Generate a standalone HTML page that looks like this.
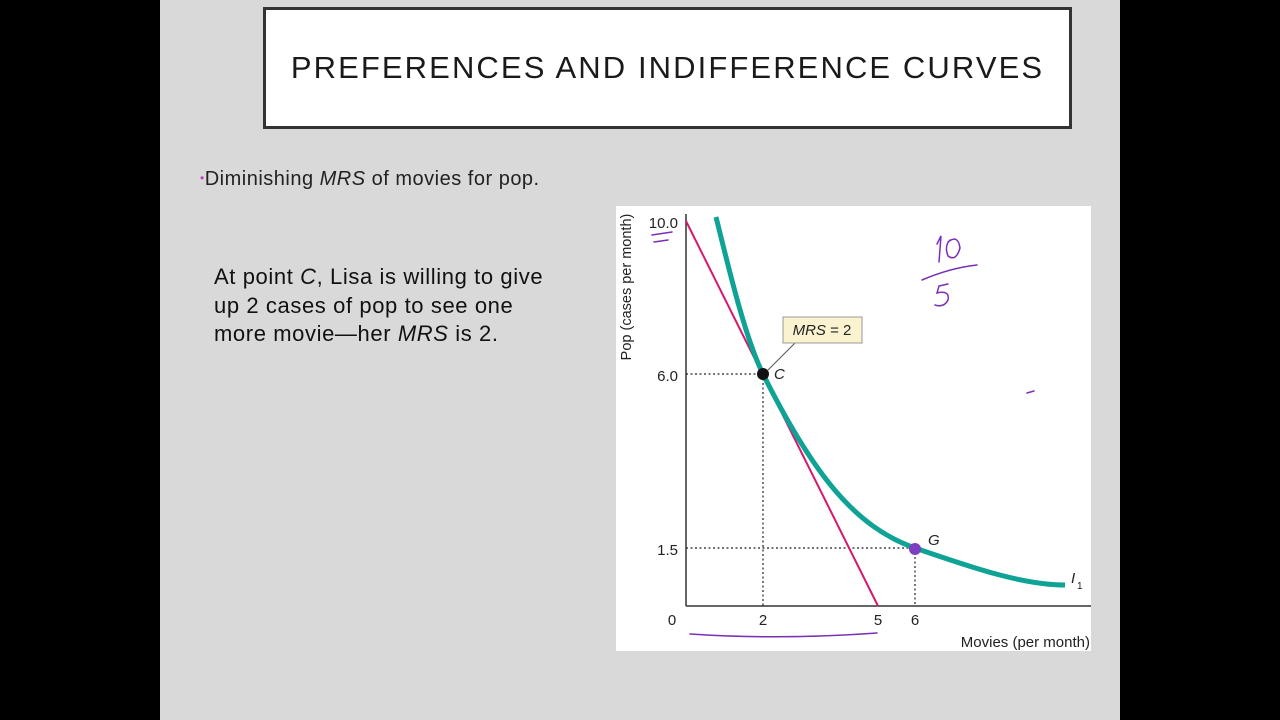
<!DOCTYPE html>
<html><head><meta charset="utf-8"><style>
body{margin:0;width:1280px;height:720px;background:#000;position:relative;overflow:hidden;font-family:"Liberation Sans",sans-serif}
#slide{position:absolute;left:160px;top:0;width:960px;height:720px;background:#d9d9d9}
#title{position:absolute;left:263px;top:7px;width:803px;height:116px;border:3px solid #333;background:#fff;display:flex;align-items:center;justify-content:center;font-size:31px;letter-spacing:2.1px;color:#1a1a1a}
#bullet{position:absolute;left:200px;top:168px;font-size:20px;letter-spacing:0.5px;color:#222}
#bullet b{color:#c03cc0;font-weight:normal;font-size:12px;vertical-align:3px}
#para{position:absolute;left:214px;top:263px;font-size:22px;letter-spacing:0.6px;line-height:28.5px;color:#111}
svg{position:absolute;left:0;top:0}
</style></head><body>
<div id="slide"></div>
<div id="title">PREFERENCES AND INDIFFERENCE CURVES</div>
<div id="bullet"><b>•</b>Diminishing <i>MRS</i> of movies for pop.</div>
<div id="para">At point <i>C</i>, Lisa is willing to give<br>up 2 cases of pop to see one<br>more movie—her <i>MRS</i> is 2.</div>
<svg width="1280" height="720" font-family="Liberation Sans, sans-serif">
<rect x="616" y="206" width="475" height="445" fill="#fff"/>
<line x1="686" y1="214" x2="686" y2="606" stroke="#333" stroke-width="1.5"/>
<line x1="686" y1="606" x2="1091" y2="606" stroke="#333" stroke-width="1.5"/>
<g stroke="#222" stroke-width="1.2" stroke-dasharray="2,2.5" fill="none">
<line x1="686" y1="374" x2="763" y2="374"/><line x1="763" y1="374" x2="763" y2="606"/>
<line x1="686" y1="548" x2="915" y2="548"/><line x1="915" y1="548" x2="915" y2="606"/>
</g>
<line x1="686" y1="221" x2="878" y2="606" stroke="#d6186e" stroke-width="2"/>
<path d="M716,217 C728,265 745,338 763,374 C813,474 855,527 915,548 C965,565 1020,585 1065,585" fill="none" stroke="#0fa396" stroke-width="5"/>
<line x1="795" y1="343" x2="768" y2="370" stroke="#555" stroke-width="1"/>
<rect x="783" y="317" width="79" height="26" fill="#fbf3d0" stroke="#999"/>
<text x="822" y="335" font-size="15" text-anchor="middle" fill="#222"><tspan font-style="italic">MRS</tspan> = 2</text>
<circle cx="763" cy="374" r="6" fill="#111"/>
<circle cx="915" cy="549" r="6" fill="#7b3fc0"/>
<text x="774" y="379" font-size="15" font-style="italic" fill="#222">C</text>
<text x="928" y="545" font-size="15" font-style="italic" fill="#222">G</text>
<text x="1071" y="583" font-size="15" font-style="italic" fill="#222">I</text>
<text x="1077" y="589" font-size="10" fill="#222">1</text>
<g font-size="15" fill="#222" text-anchor="end">
<text x="678" y="228">10.0</text><text x="678" y="381">6.0</text><text x="678" y="555">1.5</text>
</g>
<g font-size="15" fill="#222" text-anchor="middle">
<text x="672" y="625">0</text><text x="763" y="625">2</text><text x="878" y="625">5</text><text x="915" y="625">6</text>
</g>
<text x="1090" y="647" font-size="15" text-anchor="end" fill="#222">Movies (per month)</text>
<text transform="translate(631,287) rotate(-90)" font-size="14.5" text-anchor="middle" fill="#222">Pop (cases per month)</text>
<g stroke="#7a2fb8" stroke-width="1.5" fill="none" stroke-linecap="round">
<path d="M690,634 Q780,640 877,633"/>
<path d="M652,235 L672,232 M654,242 L668,240"/>
<path d="M937,244 L941,236 L939,262 M948,242 Q958,234 960,248 Q956,262 948,256 Q944,246 950,240"/>
<path d="M922,280 Q950,268 977,265"/>
<path d="M948,284 L939,286 L937,293 Q950,290 948,300 Q944,308 935,305"/>
<path d="M1027,393 L1034,391"/>
</g>
</svg>
</body></html>
